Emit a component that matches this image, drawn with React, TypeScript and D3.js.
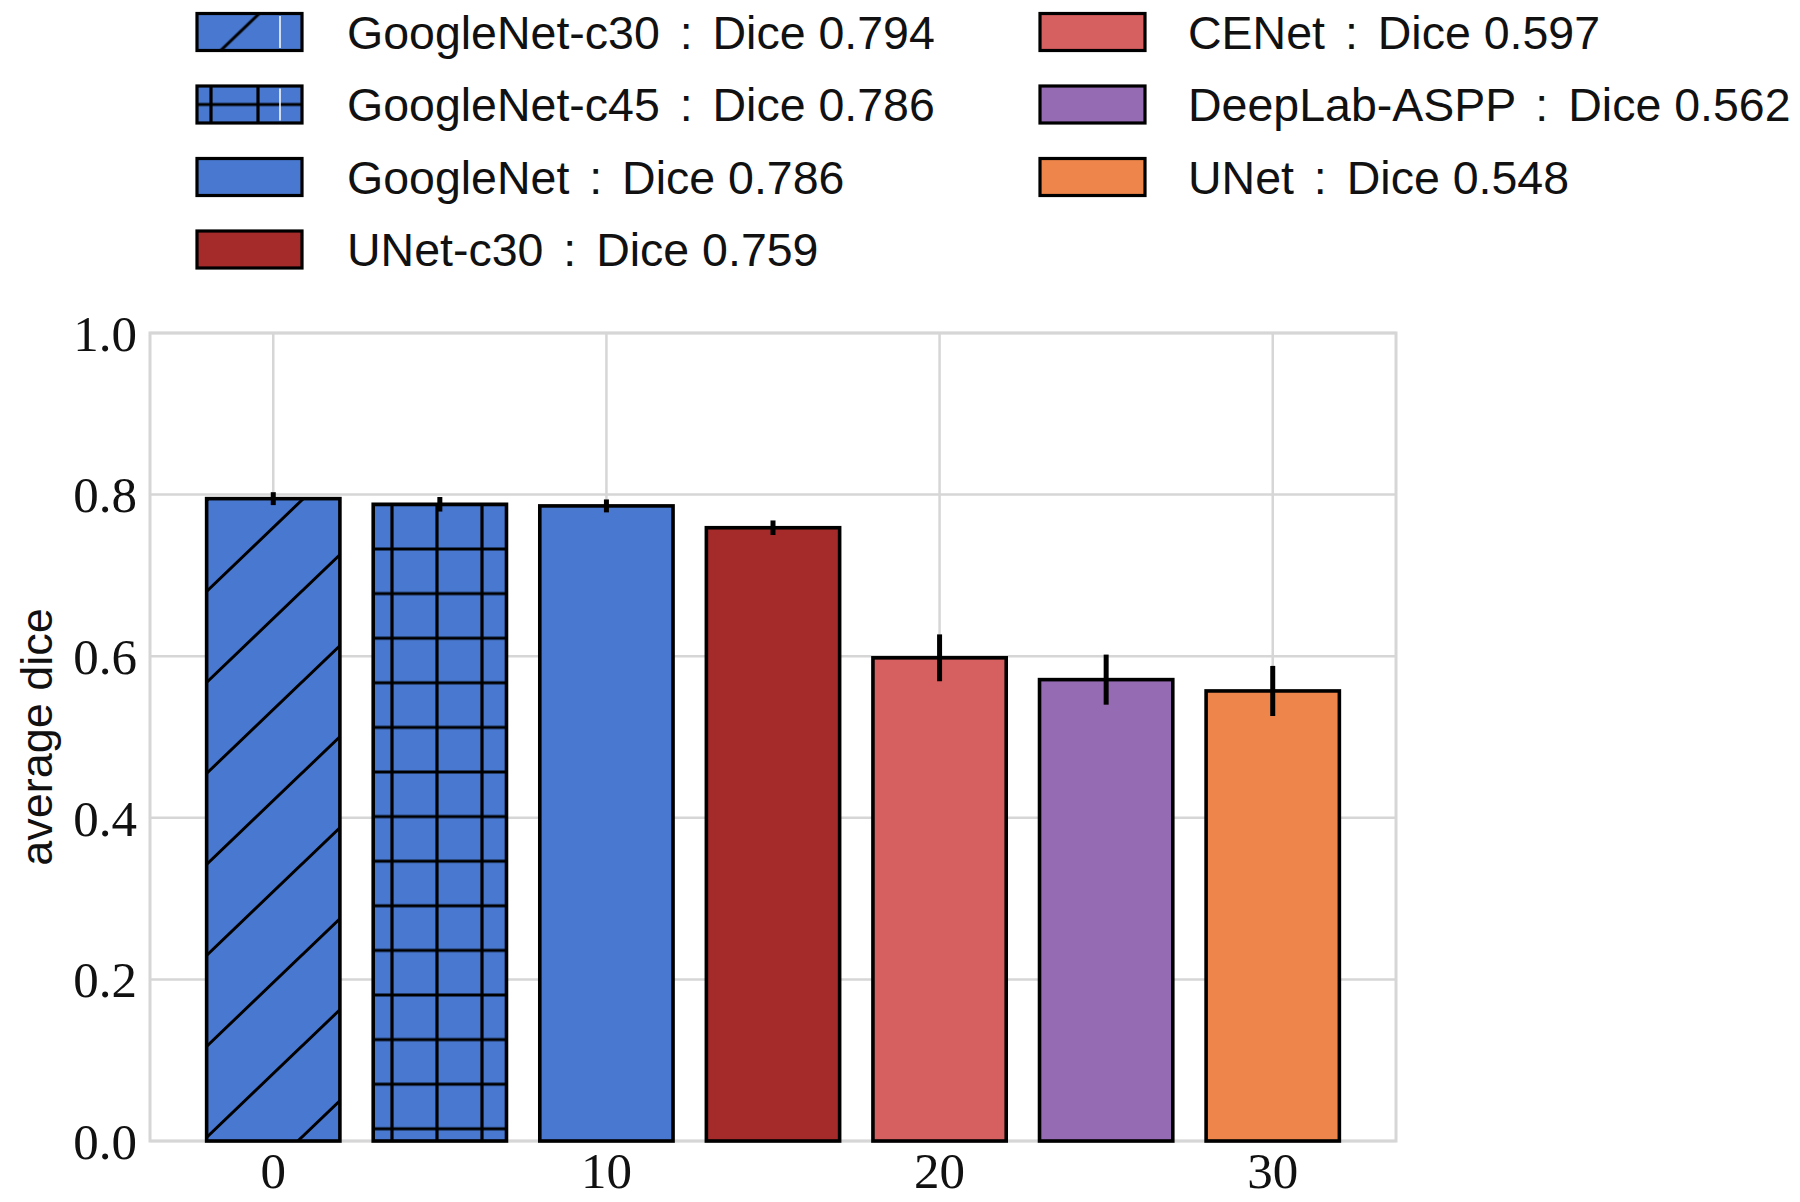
import React from 'react';
import * as d3 from 'd3';

const categories = ['GoogleNet-c30', 'GoogleNet-c45', 'GoogleNet', 'UNet-c30', 'CENet', 'DeepLab-ASPP', 'UNet'];
const positions = [0, 5, 10, 15, 20, 25, 30];
const values = [0.795, 0.788, 0.786, 0.759, 0.598, 0.571, 0.557];
const errors = [0.008, 0.009, 0.008, 0.009, 0.029, 0.031, 0.031];
const legendDice = ['0.794', '0.786', '0.786', '0.759', '0.597', '0.562', '0.548'];
const colors = ['#4878CF', '#4878CF', '#4878CF', '#A52A2A', '#D65F5F', '#956CB4', '#EE854A'];
const hatches = ['/', '+', '', '', '', '', ''];
const xTicks = [0, 10, 20, 30];
const yTicks = [0, 0.2, 0.4, 0.6, 0.8, 1.0];

const W = 1800;
const H = 1202;

export default function App() {
  const x = d3.scaleLinear().domain([-3.7, 33.7]).range([150, 1396]);
  const y = d3.scaleLinear().domain([0, 1]).range([1141, 333]);
  const barW = 4;
  const grid = '#d6d6d6';

  const fillFor = (i: number, legend: boolean) => {
    const h = hatches[i];
    if (h === '/') return legend ? 'url(#hatchDiagL)' : 'url(#hatchDiag)';
    if (h === '+') return legend ? 'url(#hatchPlusL)' : 'url(#hatchPlus)';
    return colors[i];
  };

  const rows = [32, 104.5, 177, 249.5];
  const legendItems = categories.map((c, i) => {
    const col = i < 4 ? 0 : 1;
    const row = i < 4 ? i : i - 4;
    return { c, i, col, row };
  });
  const patchX = [197, 1040];
  const textX = [347, 1188];

  const diag = (id: string, ox: number, oy: number, color: string) => (
    <pattern id={id} patternUnits="userSpaceOnUse" width={95} height={91} x={ox} y={oy}>
      <rect width={95} height={91} fill={color} />
      <path d="M0,91 L95,0 M-20,19.2 L20,-19.2 M75,110.2 L115,71.8" stroke="#000" strokeWidth={3} />
    </pattern>
  );
  const plus = (id: string, ox: number, oy: number, w: number, h: number, color: string) => (
    <pattern id={id} patternUnits="userSpaceOnUse" width={w} height={h} x={ox} y={oy}>
      <rect width={w} height={h} fill={color} />
      <path d={`M0,0 L${w},0 M0,${h} L${w},${h} M0,0 L0,${h} M${w},0 L${w},${h}`} stroke="#000" strokeWidth={3.2} />
    </pattern>
  );

  return (
    <svg width={W} height={H} style={{ position: 'absolute', left: 0, top: 0, background: '#fff' }}>
      <defs>
        {diag('hatchDiag', 207, 1046, colors[0])}
        {diag('hatchDiagL', 240 - 47.5, 32 + 45.5, colors[0])}
        {plus('hatchPlus', 392, 549, 45, 44.6, colors[1])}
        {plus('hatchPlusL', 211, 104.5, 47, 44.6, colors[1])}
      </defs>
      <rect x={0} y={0} width={W} height={H} fill="#fff" />

      {/* grid */}
      {yTicks.map((t) => (
        <line key={'gy' + t} x1={x.range()[0]} x2={x.range()[1]} y1={y(t)} y2={y(t)} stroke={grid} strokeWidth={2.5} />
      ))}
      {xTicks.map((t) => (
        <line key={'gx' + t} x1={x(t)} x2={x(t)} y1={y.range()[0]} y2={y.range()[1]} stroke={grid} strokeWidth={2.5} />
      ))}
      <rect x={x.range()[0]} y={y.range()[1]} width={x.range()[1] - x.range()[0]} height={y.range()[0] - y.range()[1]} fill="none" stroke={grid} strokeWidth={3} />

      {/* bars */}
      {values.map((v, i) => (
        <rect
          key={'b' + i}
          x={x(positions[i] - barW / 2)}
          y={y(v)}
          width={x(positions[i] + barW / 2) - x(positions[i] - barW / 2)}
          height={y(0) - y(v)}
          fill={fillFor(i, false)}
          stroke="#000"
          strokeWidth={3.6}
        />
      ))}
      {/* error bars */}
      {values.map((v, i) => (
        <line
          key={'e' + i}
          x1={x(positions[i])}
          x2={x(positions[i])}
          y1={y(v + errors[i])}
          y2={y(v - errors[i])}
          stroke="#000"
          strokeWidth={5}
        />
      ))}

      {/* y tick labels */}
      {yTicks.map((t) => (
        <text key={'yl' + t} x={137} y={y(t)} dy="0.35em" textAnchor="end" fontFamily="'Liberation Serif', serif" fontSize={51} fill="#111">
          {t.toFixed(1)}
        </text>
      ))}
      {/* x tick labels */}
      {xTicks.map((t) => (
        <text key={'xl' + t} x={x(t)} y={1188} textAnchor="middle" fontFamily="'Liberation Serif', serif" fontSize={51} fill="#111">
          {t}
        </text>
      ))}
      <text
        transform={`translate(52, ${(y(0) + y(1)) / 2}) rotate(-90)`}
        textAnchor="middle"
        fontFamily="'Liberation Sans', sans-serif"
        fontSize={45}
        fill="#111"
      >
        average dice
      </text>

      {/* legend */}
      {legendItems.map(({ c, i, col, row }) => (
        <g key={'l' + i}>
          <rect x={patchX[col]} y={rows[row] - 18.5} width={105} height={37} fill={fillFor(i, true)} stroke="#000" strokeWidth={3.2} />
          {hatches[i] !== '' && (
            <line x1={280} x2={280} y1={rows[row] - 16} y2={rows[row] + 16} stroke="#fff" strokeWidth={1.5} />
          )}
          <text
            x={textX[col]}
            y={rows[row] + 16.5}
            fontFamily="'Liberation Sans', sans-serif"
            fontSize={46.5}
            fill="#111"
            style={{ whiteSpace: 'pre' }}
          >
            <tspan>{c}</tspan>
            <tspan dx={7}>{' :'}</tspan>
            <tspan dx={7}>{' Dice ' + legendDice[i]}</tspan>
          </text>
        </g>
      ))}
    </svg>
  );
}
